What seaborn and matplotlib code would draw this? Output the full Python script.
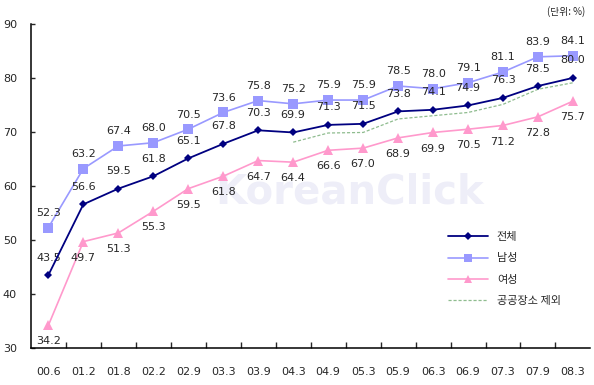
import numpy as np
import pandas as pd
import matplotlib
matplotlib.use('Agg')
import matplotlib.pyplot as plt
import seaborn as sns

# data
periods = ["00.6", "01.2", "01.8", "02.2", "02.9", "03.3", "03.9", "04.3",
           "04.9", "05.3", "05.9", "06.3", "06.9", "07.3", "07.9", "08.3"]
total = [43.5, 56.6, 59.5, 61.8, 65.1, 67.8, 70.3, 69.9,
         71.3, 71.5, 73.8, 74.1, 74.9, 76.3, 78.5, 80.0]
male = [52.3, 63.2, 67.4, 68.0, 70.5, 73.6, 75.8, 75.2,
        75.9, 75.9, 78.5, 78.0, 79.1, 81.1, 83.9, 84.1]
female = [34.2, 49.7, 51.3, 55.3, 59.5, 61.8, 64.7, 64.4,
          66.6, 67.0, 68.9, 69.9, 70.5, 71.2, 72.8, 75.7]
# "공공장소 제외" dashed series, starts at 04.3 (no labels in the chart)
excl_public = [np.nan] * 7 + [68.1, 69.8, 69.9, 72.4, 73.0, 73.6, 75.1, 77.9, 79.1]

sns.set_style("ticks")
plt.rcParams['font.family'] = ['Noto Sans CJK KR', 'DejaVu Sans']

df = pd.DataFrame({"x": np.arange(len(periods)), "period": periods,
                   "total": total, "male": male, "female": female,
                   "excl": excl_public})

fig = plt.figure(figsize=(5.94, 3.85), dpi=100)
ax = fig.add_axes([0.052, 0.096, 0.942, 0.842])

# faint watermark
ax.text(0.57, 0.48, "KoreanClick", transform=ax.transAxes, fontsize=29,
        fontweight="bold", color="#eeeef8", ha="center", va="center",
        family="DejaVu Sans", zorder=0)

sns.lineplot(data=df, x="x", y="excl", ax=ax, color="#8fbc8f", lw=0.9,
             linestyle=(0, (2.5, 1.5)), label="공공장소 제외", zorder=2)
sns.lineplot(data=df, x="x", y="female", ax=ax, color="#ff99cc", lw=1.2,
             marker="^", markersize=7, markeredgewidth=0, label="여성", zorder=3)
sns.lineplot(data=df, x="x", y="male", ax=ax, color="#9999ff", lw=1.2,
             marker="s", markersize=6.5, markeredgewidth=0, label="남성", zorder=3)
sns.lineplot(data=df, x="x", y="total", ax=ax, color="#000080", lw=1.3,
             marker="D", markersize=4.5, markeredgewidth=0, label="전체", zorder=4)

for xi, t, m, f in zip(df["x"], total, male, female):
    ax.annotate(f"{t:.1f}", (xi, t), xytext=(0, 9), textcoords="offset points",
                ha="center", va="bottom", fontsize=8, family="DejaVu Sans")
    ax.annotate(f"{m:.1f}", (xi, m), xytext=(0, 7), textcoords="offset points",
                ha="center", va="bottom", fontsize=8, family="DejaVu Sans")
    ax.annotate(f"{f:.1f}", (xi, f), xytext=(0, -8), textcoords="offset points",
                ha="center", va="top", fontsize=8, family="DejaVu Sans")

ax.set_xlim(-0.5, len(periods) - 0.5)
ax.set_ylim(30, 90)
ax.set_yticks(range(30, 91, 10))
ax.set_xticks(df["x"])
ax.set_xticklabels(periods, fontsize=8, family="DejaVu Sans")
ax.set_xticks(np.arange(0.5, len(periods) - 0.5, 1), minor=True)
ax.tick_params(axis="x", which="major", length=0, pad=14)
ax.tick_params(axis="x", which="minor", direction="in", length=4, width=1)
ax.tick_params(axis="y", direction="in", length=3, width=1, labelsize=8, pad=10)
for lab in ax.get_yticklabels():
    lab.set_family("DejaVu Sans")
ax.set_xlabel("")
ax.set_ylabel("")
sns.despine(ax=ax)
for s in ["left", "bottom"]:
    ax.spines[s].set_linewidth(1.1)
    ax.spines[s].set_color("black")

handles, labels = ax.get_legend_handles_labels()
order = ["전체", "남성", "여성", "공공장소 제외"]
hmap = dict(zip(labels, handles))
leg = ax.legend([hmap[k] for k in order], order, loc="lower right",
                bbox_to_anchor=(0.965, 0.1), frameon=False, fontsize=8,
                handlelength=3.6, labelspacing=1.0, markerscale=0.8)

fig.text(0.985, 0.985, "(단위: %)", ha="right", va="top", fontsize=7)

plt.savefig("out.png", dpi=100)
plt.close()
